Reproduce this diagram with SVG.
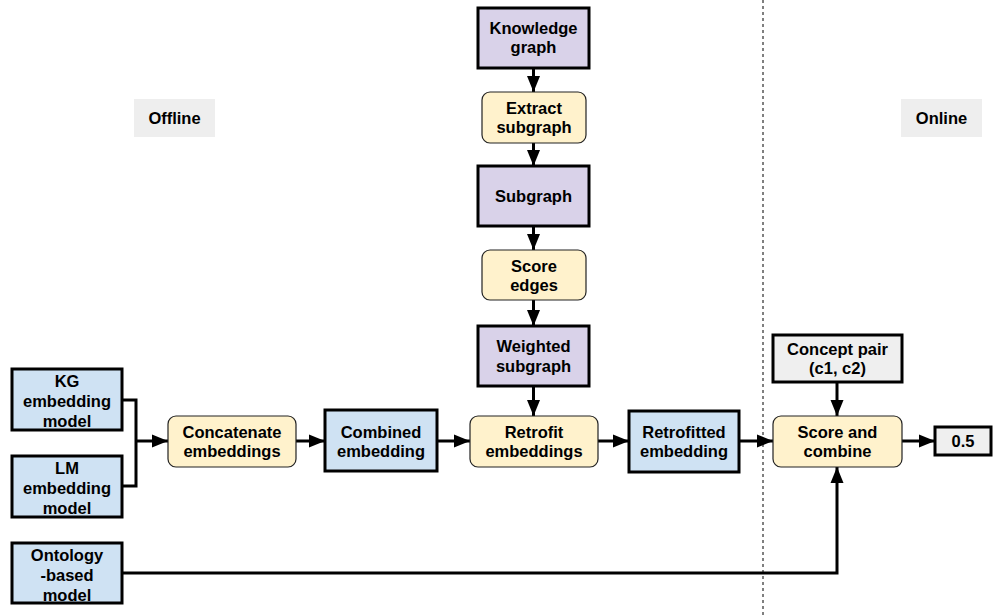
<svg xmlns="http://www.w3.org/2000/svg" width="994" height="615" viewBox="0 0 994 615">
<style>
text{font-family:"Liberation Sans",Arial,sans-serif;font-weight:bold;font-size:16.5px;fill:#000;text-anchor:middle}
.sq{stroke:#000;stroke-width:3}
.rd{stroke:#222;stroke-width:1.2}
.blue{fill:#cfe2f3}.purple{fill:#d9d2e9}.yellow{fill:#fff2cc}.grey{fill:#efefef}
.lbl{fill:#eeeeee}
.c{fill:none;stroke:#000;stroke-width:3}
</style>
<defs>
<marker id="ah" markerUnits="userSpaceOnUse" markerWidth="18" markerHeight="16" refX="16" refY="7" orient="auto">
<path d="M0,0.5 L16,7 L0,13.5 Z" fill="#000"/>
</marker>
</defs>
<line x1="763" y1="0" x2="763" y2="615" stroke="#000" stroke-width="1" stroke-dasharray="3,3"/>
<g id="offline"><rect class="lbl" x="134" y="99" width="81" height="38"/><text x="174.5" y="124">Offline</text></g>
<g id="online"><rect class="lbl" x="901" y="99" width="81" height="38"/><text x="941.5" y="124">Online</text></g>

<g id="connectors">
<line class="c" x1="533.5" y1="68" x2="533.5" y2="92" marker-end="url(#ah)"/>
<line class="c" x1="533.5" y1="143" x2="533.5" y2="166" marker-end="url(#ah)"/>
<line class="c" x1="533.5" y1="226" x2="533.5" y2="250" marker-end="url(#ah)"/>
<line class="c" x1="533.5" y1="300" x2="533.5" y2="326" marker-end="url(#ah)"/>
<line class="c" x1="533.5" y1="386" x2="533.5" y2="416" marker-end="url(#ah)"/>
<polyline class="c" points="122,400 136,400 136,486 122,486"/>
<line class="c" x1="136" y1="441" x2="168" y2="441" marker-end="url(#ah)"/>
<line class="c" x1="296" y1="441" x2="325" y2="441" marker-end="url(#ah)"/>
<line class="c" x1="437" y1="441" x2="470" y2="441" marker-end="url(#ah)"/>
<line class="c" x1="598" y1="441" x2="629" y2="441" marker-end="url(#ah)"/>
<line class="c" x1="739" y1="441" x2="773" y2="441" marker-end="url(#ah)"/>
<line class="c" x1="902" y1="441" x2="935" y2="441" marker-end="url(#ah)"/>
<line class="c" x1="837" y1="382" x2="837" y2="416" marker-end="url(#ah)"/>
<polyline class="c" points="122,573 837,573 837,467" marker-end="url(#ah)"/>
</g>

<g id="knowledge-graph"><rect class="sq purple" x="478" y="8" width="111" height="60"/><text x="533.5" y="34">Knowledge</text><text x="533.5" y="53">graph</text></g>
<g id="extract-subgraph"><rect class="rd yellow" x="482" y="92" width="104" height="51" rx="8"/><text x="534" y="114">Extract</text><text x="534" y="133">subgraph</text></g>
<g id="subgraph"><rect class="sq purple" x="478" y="166" width="111" height="60"/><text x="533.5" y="202">Subgraph</text></g>
<g id="score-edges"><rect class="rd yellow" x="482" y="250" width="104" height="50" rx="8"/><text x="534" y="272">Score</text><text x="534" y="291">edges</text></g>
<g id="weighted-subgraph"><rect class="sq purple" x="478" y="326" width="111" height="60"/><text x="533.5" y="352">Weighted</text><text x="533.5" y="372">subgraph</text></g>

<g id="kg-model"><rect class="sq blue" x="12" y="369" width="110" height="61"/><text x="67" y="387">KG</text><text x="67" y="407">embedding</text><text x="67" y="427">model</text></g>
<g id="lm-model"><rect class="sq blue" x="12" y="456" width="110" height="61"/><text x="67" y="474">LM</text><text x="67" y="494">embedding</text><text x="67" y="514">model</text></g>
<g id="ontology-model"><rect class="sq blue" x="12" y="543" width="110" height="60"/><text x="67" y="561">Ontology</text><text x="67" y="581">-based</text><text x="67" y="601">model</text></g>

<g id="concatenate"><rect class="rd yellow" x="168" y="416" width="128" height="51" rx="8"/><text x="232" y="438">Concatenate</text><text x="232" y="457">embeddings</text></g>
<g id="combined"><rect class="sq blue" x="325" y="410" width="112" height="61"/><text x="381" y="438">Combined</text><text x="381" y="457">embedding</text></g>
<g id="retrofit"><rect class="rd yellow" x="470" y="416" width="128" height="51" rx="8"/><text x="534" y="438">Retrofit</text><text x="534" y="457">embeddings</text></g>
<g id="retrofitted"><rect class="sq blue" x="629" y="411" width="110" height="61"/><text x="684" y="438">Retrofitted</text><text x="684" y="457">embedding</text></g>
<g id="concept-pair"><rect class="sq grey" x="773" y="335" width="129" height="47"/><text x="837.5" y="355">Concept pair</text><text x="837.5" y="374">(c1, c2)</text></g>
<g id="score-combine"><rect class="rd yellow" x="773" y="416" width="129" height="51" rx="8"/><text x="837.5" y="438">Score and</text><text x="837.5" y="457">combine</text></g>
<g id="result"><rect class="sq grey" x="935" y="427" width="56" height="28"/><text x="963" y="447">0.5</text></g>
</svg>
